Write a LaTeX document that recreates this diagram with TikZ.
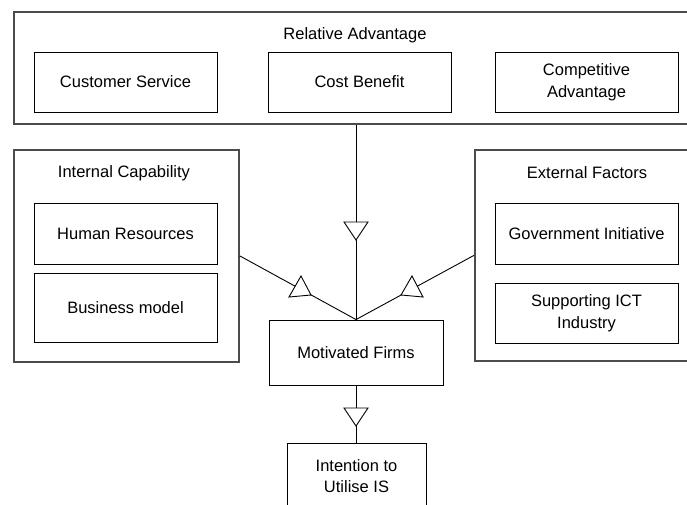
\documentclass[tikz,border=0pt]{standalone}
\usepackage{fontspec}
\setmainfont{Liberation Sans}
\begin{document}
\begin{tikzpicture}[x=1pt,y=-1pt,
  font=\fontsize{16.5}{21.5}\selectfont,
  outer/.style={draw=black!70, line width=1.7pt, inner sep=0pt, anchor=north west},
  inbox/.style={draw=black, line width=0.9pt, inner sep=0pt, align=center, minimum width=183pt},
  link/.style={draw=black, line width=0.9pt},
  tri/.style={draw=black, line width=0.9pt, fill=white, line join=miter}]
\clip (0,0) rectangle (687,505);
\fill[white] (0,0) rectangle (687,505);
% group boxes
\node[outer, minimum width=684pt, minimum height=112pt] (ra) at (13,11) {};
\node[outer, minimum width=225pt, minimum height=212pt] (ic) at (13,149) {};
\node[outer, minimum width=226pt, minimum height=211pt] (ef) at (474,149) {};
% group labels
\node (ralab) at (355,35) {Relative Advantage};
\node (iclab) at (124,173) {Internal Capability};
\node (eflab) at (587,173) {External Factors};
% inner boxes
\node[inbox, minimum height=60pt] (cs) at (125.5,82) {Customer Service};
\node[inbox, minimum height=60pt] (cb) at (359.5,82) {Cost Benefit};
\node[inbox, minimum height=60pt] (ca) at (586.5,82) {Competitive\\Advantage};
\node[inbox, minimum height=61pt] (hr) at (125.5,233.5) {Human Resources};
\node[inbox, minimum height=69pt] (bm) at (125.5,307.5) {Business model};
\node[inbox, minimum height=61pt] (gi) at (586.5,233.5) {Government Initiative};
\node[inbox, minimum height=60pt] (si) at (586.5,313) {Supporting ICT\\Industry};
\node[inbox, minimum width=174pt, minimum height=65pt] (mf) at (356,352.5) {Motivated Firms};
\node[inbox, minimum width=139pt, minimum height=66pt] (it) at (356.5,476) {Intention to\\Utilise IS};
% connectors
\coordinate (meet) at (mf.north);
\draw[link] (ra.south -| meet) -- (meet);
\draw[link] (ic.east) -- (meet);
\draw[link] (ef.west) -- (meet);
\draw[link] (mf.south) -- (mf.south |- it.north);
% triangle markers
\draw[tri] (344,222) -- (368,222) -- (356,240) -- cycle;
\draw[tri] (344,408) -- (368,408) -- (356,426) -- cycle;
\draw[tri] (301,276) -- (289,297) -- (311,295) -- cycle;
\draw[tri] (412,276) -- (401,295) -- (423,297) -- cycle;
\end{tikzpicture}
\end{document}
